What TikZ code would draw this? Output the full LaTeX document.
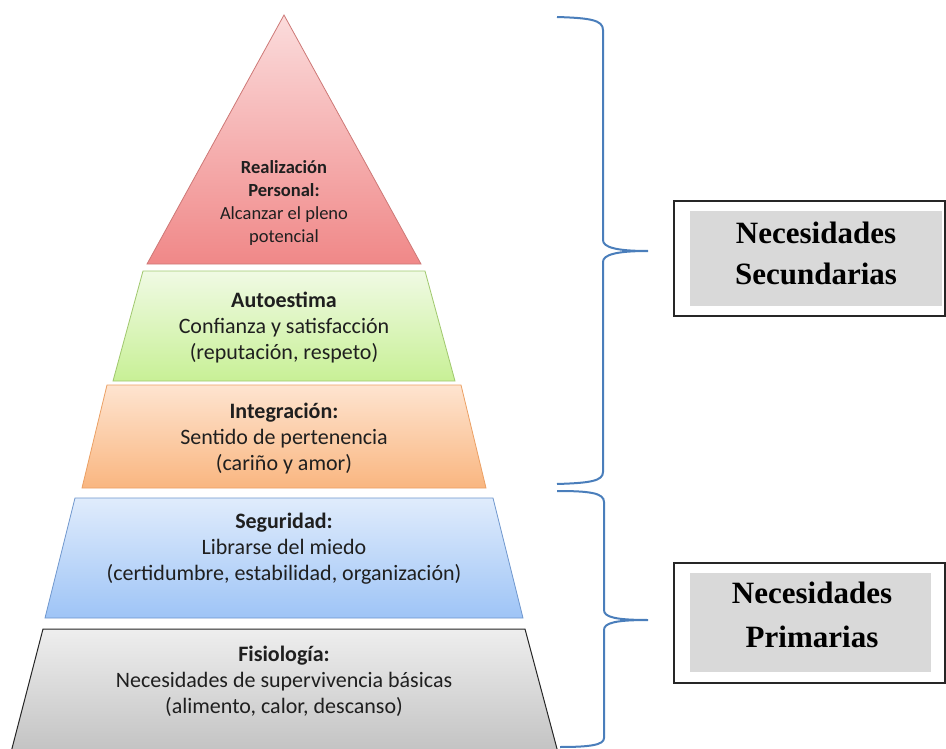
\documentclass[tikz,border=0pt]{standalone}
\usepackage{fontspec}
\setmainfont{Liberation Serif}
\newfontfamily\calibri{Carlito}
\usepackage{tikz}
\definecolor{bracecol}{RGB}{74,126,187}
\definecolor{redtop}{RGB}{251,220,220}
\definecolor{redbot}{RGB}{240,136,136}
\definecolor{redline}{RGB}{205,120,118}
\definecolor{greentop}{RGB}{240,250,228}
\definecolor{greenbot}{RGB}{200,240,150}
\definecolor{greenline}{RGB}{160,200,110}
\definecolor{orangetop}{RGB}{254,228,208}
\definecolor{orangebot}{RGB}{249,182,128}
\definecolor{orangeline}{RGB}{235,160,100}
\definecolor{bluetop}{RGB}{224,236,252}
\definecolor{bluebot}{RGB}{158,196,246}
\definecolor{blueline}{RGB}{110,150,205}
\definecolor{graytop}{RGB}{238,238,238}
\definecolor{graybot}{RGB}{192,192,192}
\tikzstyle{tiertext} = [align=center, inner sep=0pt, text=black!88, font=\calibri\fontsize{22}{26}\selectfont]
\tikzstyle{toptext} = [align=center, inner sep=0pt, text=black!88, font=\calibri\fontsize{18.5}{23}\selectfont]
\tikzstyle{needbox} = [rectangle, draw=black!85, line width=1.2pt, fill=white]
\tikzstyle{needfill} = [rectangle, fill=gray!30]
\tikzstyle{needtext} = [align=center, inner sep=0pt, font=\bfseries\fontsize{31}{41}\selectfont]
\tikzstyle{brace} = [draw=bracecol, line width=2pt]

\begin{document}
\begin{tikzpicture}[x=1pt, y=-1pt]
\useasboundingbox (0,0) rectangle (946,749);
\clip (0,0) rectangle (946,749);

% Pyramid
\shade[top color=redtop, bottom color=redbot, draw=redline, line width=0.8pt] (284,15) -- (421,264) -- (147,264) -- cycle;
\shade[top color=greentop, bottom color=greenbot, draw=greenline, line width=0.8pt] (143,271) -- (425,271) -- (455,381) -- (113,381) -- cycle;
\shade[top color=orangetop, bottom color=orangebot, draw=orangeline, line width=0.8pt] (107,385) -- (461,385) -- (486,488) -- (82,488) -- cycle;
\shade[top color=bluetop, bottom color=bluebot, draw=blueline, line width=0.8pt] (75,498) -- (493,498) -- (523,618) -- (45,618) -- cycle;
\shade[top color=graytop, bottom color=graybot, draw=black!85, line width=1pt] (43,629) -- (525,629) -- (560,760) -- (9,760) -- cycle;

% Nodes
\node (realizacion) at (284,202.5) [toptext] {\textbf{Realización}\\\textbf{Personal:}\\Alcanzar el pleno\\potencial};
\node (autoestima) at (284,328) [tiertext] {\textbf{Autoestima}\\Confianza y satisfacción\\(reputación, respeto)};
\node (integracion) at (284,439) [tiertext] {\textbf{Integración:}\\Sentido de pertenencia\\(cariño y amor)};
\node (seguridad) at (284,548.5) [tiertext] {\textbf{Seguridad:}\\Librarse del miedo\\(certidumbre, estabilidad, organización)};
\node (fisiologia) at (284,681) [tiertext] {\textbf{Fisiología:}\\Necesidades de supervivencia básicas\\(alimento, calor, descanso)};

\node (secbox) at (809.5,258.5) [needbox, minimum width=271, minimum height=115] {};
\node (secfill) at (816,258.5) [needfill, minimum width=252, minimum height=95] {};
\node (sectext) at (816,253) [needtext] {Necesidades\\Secundarias};

\node (primbox) at (809.5,623) [needbox, minimum width=271, minimum height=120] {};
\node (primfill) at (810.5,622.5) [needfill, minimum width=241, minimum height=99] {};
\node (primtext) at (812,615) [needtext, font=\bfseries\fontsize{31}{44}\selectfont] {Necesidades\\Primarias};

% Braces
\coordinate (sectop) at (557,17);
\coordinate (sectip) at (648,251);
\coordinate (secend) at (557,484);
\coordinate (primtop) at (557,491);
\coordinate (primtip) at (648,620);
\coordinate (primend) at (560,747);

\draw [brace] (sectop) .. controls (590,18) and (603,20) .. (603,30) -- (603,240)
  .. controls (603,247) and (615,251) .. (sectip)
  .. controls (615,251) and (603,255) .. (603,262) -- (603,472)
  .. controls (603,481) and (590,483) .. (secend);
\draw [brace] (primtop) .. controls (590,491) and (604,493) .. (604,502) -- (604,610)
  .. controls (604,617) and (615,620) .. (primtip)
  .. controls (615,620) and (604,623) .. (604,630) -- (604,738)
  .. controls (604,745) and (590,747) .. (primend);

\end{tikzpicture}
\end{document}
